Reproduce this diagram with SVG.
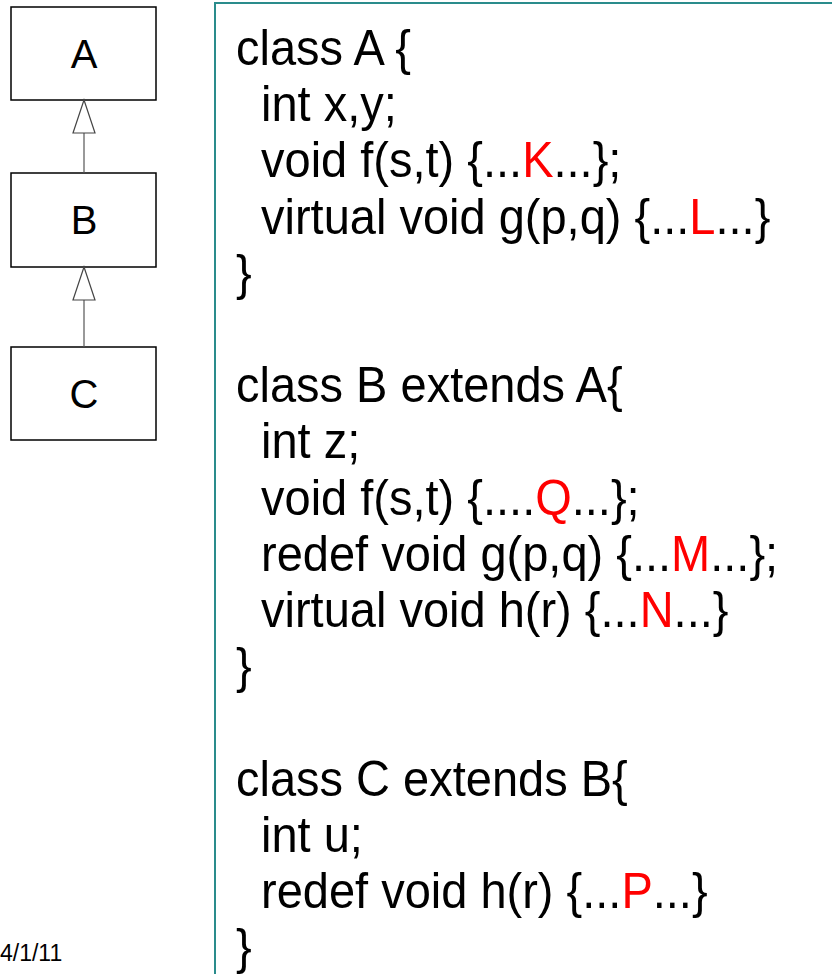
<svg xmlns="http://www.w3.org/2000/svg" width="832" height="974" viewBox="0 0 832 974">
<style>
.box{fill:#fff;stroke:#000;stroke-width:1.5}
.lbl{font-family:"Liberation Sans",Arial,sans-serif;font-size:40px;fill:#000;text-anchor:middle}
.code{font-family:"Liberation Sans",Arial,sans-serif;font-size:47px;fill:#000}
.r{fill:#ff0000}
.conn{stroke:#555;stroke-width:1.2;fill:none}
.head{fill:#fff;stroke:#444;stroke-width:1.2}
.date{font-family:"Liberation Sans",Arial,sans-serif;font-size:23px;fill:#000}
</style>
<rect width="832" height="974" fill="#fff"/>
<g id="A"><rect class="box" x="11" y="7" width="145" height="93"/><text class="lbl" x="84" y="68">A</text></g>
<g id="B"><rect class="box" x="11" y="173" width="145" height="94"/><text class="lbl" x="84" y="234">B</text></g>
<g id="C"><rect class="box" x="11" y="347" width="145" height="93"/><text class="lbl" x="84" y="408">C</text></g>
<g id="connectors">
<line class="conn" x1="84" y1="173" x2="84" y2="133"/>
<polygon class="head" points="84,100 73,133 95,133"/>
<line class="conn" x1="84" y1="347" x2="84" y2="300"/>
<polygon class="head" points="84,267 73,300 95,300"/>
</g>
<g id="code">
<rect x="215" y="3" width="640" height="1000" fill="none" stroke="#2a8c8c" stroke-width="2"/>
<g transform="matrix(1,0,0,1.08,0,0)">
<text class="code" x="236" y="60.2">class A {</text>
<text class="code" x="261" y="112.2">int x,y;</text>
<text class="code" x="261" y="164.3">void f(s,t) {...<tspan class="r">K</tspan>...};</text>
<text class="code" x="261" y="216.3">virtual void g(p,q) {...<tspan class="r">L</tspan>...}</text>
<text class="code" x="236" y="268.3">}</text>
<text class="code" x="236" y="372.4">class B extends A{</text>
<text class="code" x="261" y="424.5">int z;</text>
<text class="code" x="261" y="476.5">void f(s,t) {....<tspan class="r">Q</tspan>...};</text>
<text class="code" x="261" y="528.5">redef void g(p,q) {...<tspan class="r">M</tspan>...};</text>
<text class="code" x="261" y="580.6">virtual void h(r) {...<tspan class="r">N</tspan>...}</text>
<text class="code" x="236" y="632.6">}</text>
<text class="code" x="236" y="736.7">class C extends B{</text>
<text class="code" x="261" y="788.7">int u;</text>
<text class="code" x="261" y="840.7">redef void h(r) {...<tspan class="r">P</tspan>...}</text>
<text class="code" x="236" y="892.8">}</text>
</g>
</g>
<text class="date" x="0" y="961">4/1/11</text>
</svg>
